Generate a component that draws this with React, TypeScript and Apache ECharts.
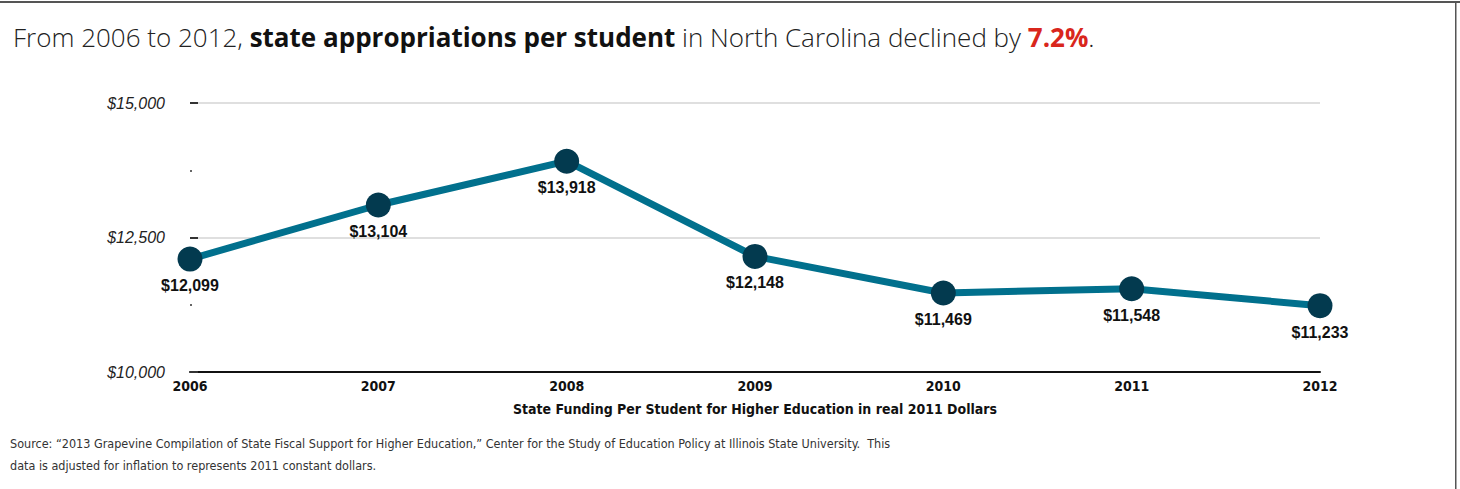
import React, { useEffect, useRef } from "react";
import * as echarts from "echarts";

const years = ["2006", "2007", "2008", "2009", "2010", "2011", "2012"];
const funding = [12099, 13104, 13918, 12148, 11469, 11548, 11233];
const yMin = 10000;
const yMax = 15000;
const yInterval = 2500;

const fmt = (v: number) => "$" + v.toLocaleString("en-US");
const COND = "DejaVu Sans Condensed, Liberation Sans Narrow, sans-serif";

export default function App() {
  const ref = useRef<HTMLDivElement>(null);
  useEffect(() => {
    if (!ref.current) return;
    const chart = echarts.init(ref.current, null, { renderer: "svg" });
    chart.setOption({
      animation: false,
      backgroundColor: "#fff",
      title: {
        text: "From 2006 to 2012, {b|state appropriations per student} in North Carolina declined by {r|7.2%}.",
        left: 8,
        top: 19,
        textStyle: {
          fontFamily: "Open Sans",
          fontWeight: 300,
          fontSize: 26,
          color: "#222",
          rich: {
            b: { fontFamily: "Open Sans", fontWeight: "bold", fontSize: 26, color: "#111" },
            r: { fontFamily: "Open Sans", fontWeight: "bold", fontSize: 26, color: "#d9261c" },
          },
        },
      },
      grid: { left: 190, right: 140, top: 103, bottom: 117 },
      xAxis: {
        type: "category",
        data: years,
        boundaryGap: false,
        axisLine: { show: true, lineStyle: { color: "#111", width: 2 } },
        axisTick: { show: false },
        axisLabel: {
          margin: 7,
          fontFamily: COND,
          fontWeight: "bold",
          fontSize: 14,
          color: "#111",
        },
        name: "State Funding Per Student for Higher Education in real 2011 Dollars",
        nameLocation: "middle",
        nameGap: 30,
        nameTextStyle: {
          fontFamily: COND,
          fontWeight: "bold",
          fontSize: 14,
          color: "#111",
        },
      },
      yAxis: {
        type: "value",
        min: yMin,
        max: yMax,
        interval: yInterval,
        axisLine: { show: false },
        axisTick: { show: true, inside: true, length: 8, lineStyle: { color: "#333", width: 2 } },
        minorTick: { show: true, splitNumber: 2, length: 2, lineStyle: { color: "#333", width: 1.5 } },
        splitLine: { show: true, lineStyle: { color: "#d4d4d4", width: 1.5 } },
        axisLabel: {
          margin: 25,
          formatter: (v: number) => fmt(v),
          fontFamily: "Liberation Sans, Arial, sans-serif",
          fontStyle: "italic",
          fontSize: 16,
          color: "#222",
        },
      },
      series: [
        {
          type: "line",
          data: funding,
          symbol: "circle",
          symbolSize: 25,
          lineStyle: { color: "#01708d", width: 7 },
          itemStyle: { color: "#033a4f" },
          label: {
            show: true,
            position: "bottom",
            distance: 6,
            formatter: (p: any) => fmt(p.value),
            fontFamily: "Liberation Sans, Arial, sans-serif",
            fontWeight: "bold",
            fontSize: 16,
            color: "#111",
          },
          z: 3,
        },
      ],
      graphic: [
        { type: "rect", shape: { x: 0, y: 1, width: 1460, height: 2 }, style: { fill: "#555" } },
        { type: "rect", shape: { x: 1455, y: 1, width: 1.5, height: 488 }, style: { fill: "#555" } },
        {
          type: "text",
          left: 10,
          top: 432,
          style: {
            text:
              "Source: \u201C2013 Grapevine Compilation of State Fiscal Support for Higher Education,\u201D Center for the Study of Education Policy at Illinois State University.  This\ndata is adjusted for inflation to represents 2011 constant dollars.",
            fontFamily: COND,
            fontSize: 12.5,
            lineHeight: 22,
            fill: "#333",
          },
        },
      ],
    });
    return () => chart.dispose();
  }, []);
  return (
    <div
      ref={ref}
      style={{ position: "fixed", left: 0, top: 0, width: 1460, height: 489 }}
    />
  );
}
